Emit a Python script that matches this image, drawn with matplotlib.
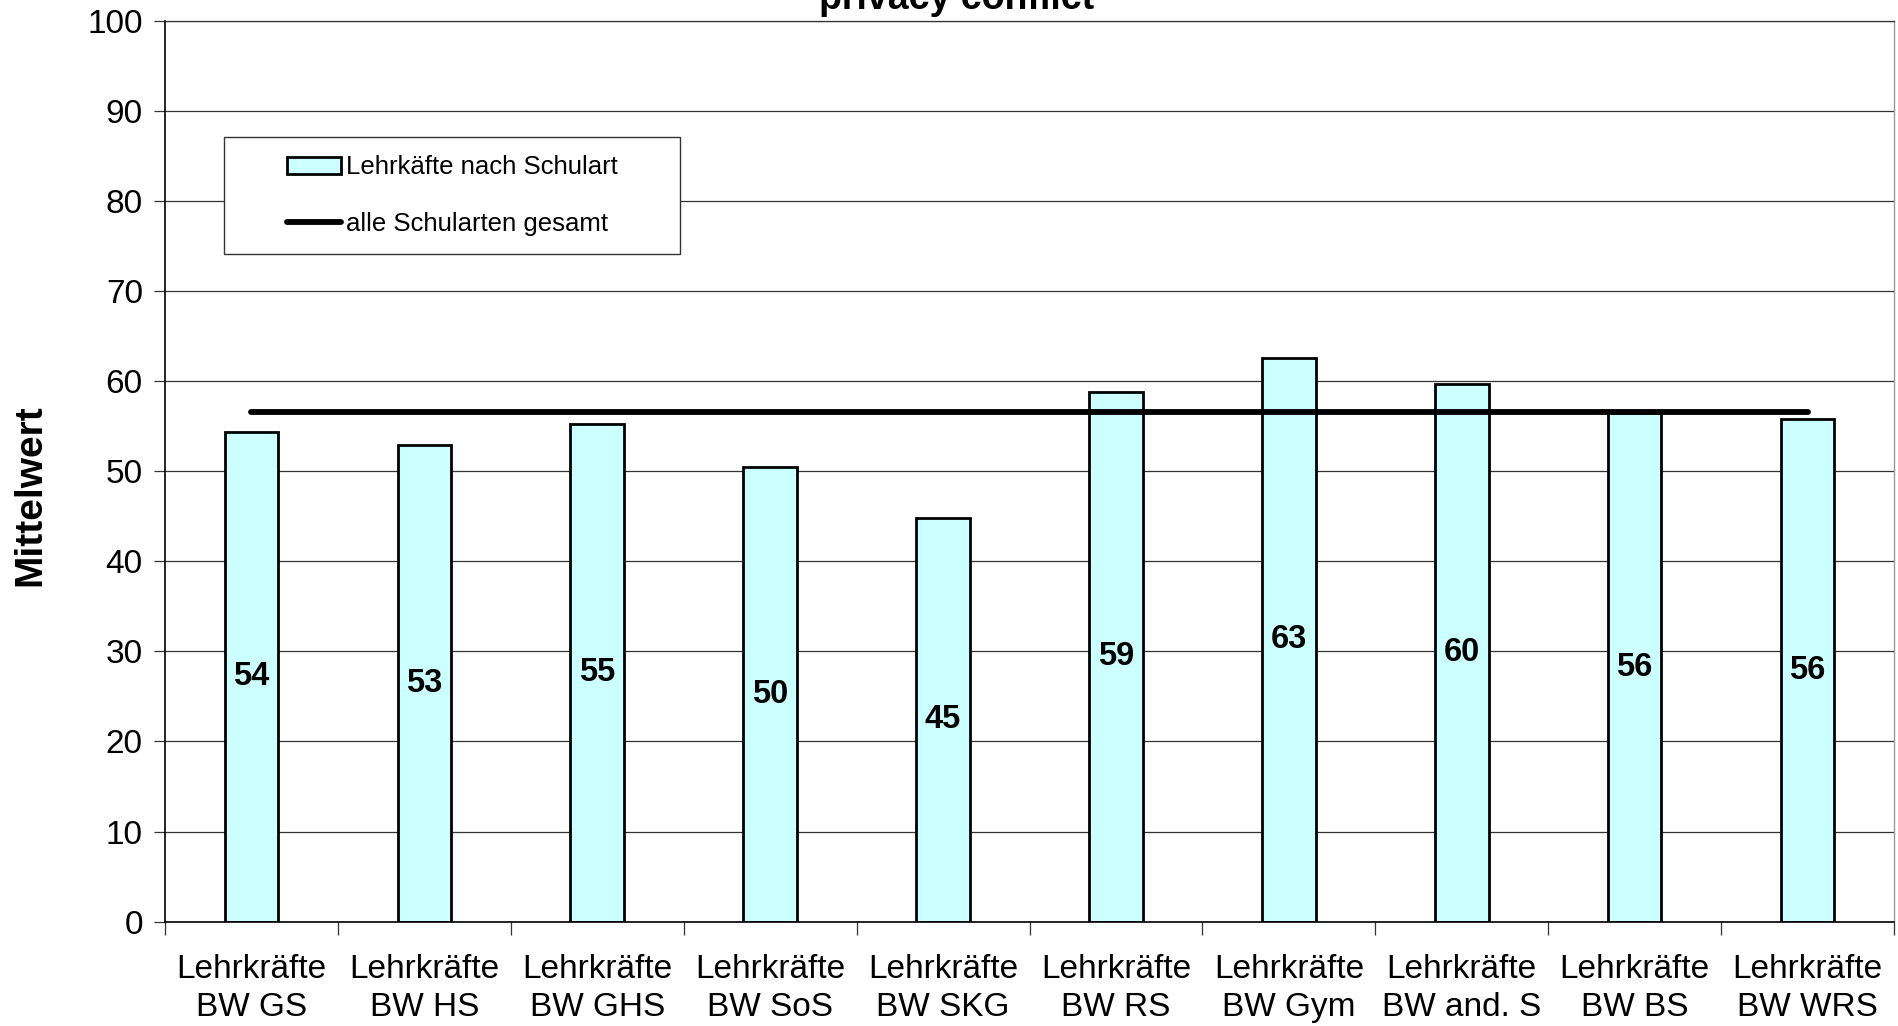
import matplotlib
matplotlib.use("Agg")
import matplotlib.pyplot as plt
from matplotlib.patches import Rectangle
from matplotlib.lines import Line2D
from matplotlib.patches import Patch
import numpy as np

plt.rcParams['font.family'] = ['Liberation Sans', 'DejaVu Sans']

categories = ["Lehrkräfte\nBW GS", "Lehrkräfte\nBW HS", "Lehrkräfte\nBW GHS",
              "Lehrkräfte\nBW SoS", "Lehrkräfte\nBW SKG", "Lehrkräfte\nBW RS",
              "Lehrkräfte\nBW Gym", "Lehrkräfte\nBW and. S", "Lehrkräfte\nBW BS",
              "Lehrkräfte\nBW WRS"]
values = [54.3, 52.9, 55.2, 50.5, 44.8, 58.8, 62.6, 59.7, 56.4, 55.8]
value_labels = ["54", "53", "55", "50", "45", "59", "63", "60", "56", "56"]
overall_mean = 56.6
y_ticks = [0, 10, 20, 30, 40, 50, 60, 70, 80, 90, 100]
title = "privacy conflict"
y_label = "Mittelwert"
legend_bar = "Lehrkäfte nach Schulart"
legend_line = "alle Schularten gesamt"

W, H = 1899, 1026
fig = plt.figure(figsize=(W / 100, H / 100), dpi=100)
ax = fig.add_axes([165 / W, 1 - 921.6 / H, (1894 - 165) / W, (921.6 - 20.6) / H])

x = np.arange(len(categories))
ax.set_xlim(-0.5, len(categories) - 0.5)
ax.set_ylim(0, 100)

ax.set_yticks(y_ticks)
ax.yaxis.grid(True, color='#333333', linewidth=0.9, zorder=0)
ax.set_axisbelow(True)

bars = ax.bar(x, values, width=0.31, color='#CCFFFF', edgecolor='black',
              linewidth=2.0, zorder=2)
for xi, v, lab in zip(x, values, value_labels):
    ax.text(xi, v / 2, lab, ha='center', va='center', fontsize=23.5,
            fontweight='bold', zorder=4)

ax.plot([x[0], x[-1]], [overall_mean, overall_mean], color='black',
        linewidth=4.2, solid_capstyle='round', zorder=3)

# x ticks: boundaries as major ticks, labels at centers
ax.set_xticks(np.arange(-0.5, len(categories), 1.0))
ax.set_xticklabels([])
ax.set_xticks(x, minor=True)
ax.set_xticklabels(categories, minor=True, fontsize=24, linespacing=1.3)
ax.tick_params(axis='x', which='major', length=9, width=0.9, color='#333333')
ax.tick_params(axis='x', which='minor', length=0, pad=23)
ax.tick_params(axis='y', length=8, width=0.9, pad=8, labelsize=24, color='#333333')

for s in ['left', 'bottom']:
    ax.spines[s].set_color('black')
    ax.spines[s].set_linewidth(1.2)
ax.spines['top'].set_color('#333333')
ax.spines['top'].set_linewidth(0.9)
ax.spines['right'].set_color('#999999')
ax.spines['right'].set_linewidth(1.0)

fig.text(30 / W, 1 - 495 / H, y_label, rotation=90, ha='center', va='center',
         fontsize=28, fontweight='bold')
fig.text(957 / W, 1 - 9 / H, title, ha='center', va='baseline',
         fontsize=27, fontweight='bold')

# legend frame
rect = Rectangle((224 / W, 1 - 254 / H), (680 - 224) / W, (254 - 137) / H,
                 transform=fig.transFigure, facecolor='white', edgecolor='#333333',
                 linewidth=1.0, zorder=5)
fig.add_artist(rect)
handles = [Patch(facecolor='#CCFFFF', edgecolor='black', linewidth=2.0),
           Line2D([0], [0], color='black', linewidth=4.2, solid_capstyle='round')]
leg = fig.legend(handles, [legend_bar, legend_line], loc='center',
                 bbox_to_anchor=(452 / W, 1 - 195.5 / H), frameon=False,
                 fontsize=18.5, handlelength=2.1, handleheight=0.6,
                 handletextpad=0.2, labelspacing=1.25, borderpad=0)
leg.set_zorder(6)

fig.savefig("out.png", dpi=100)
